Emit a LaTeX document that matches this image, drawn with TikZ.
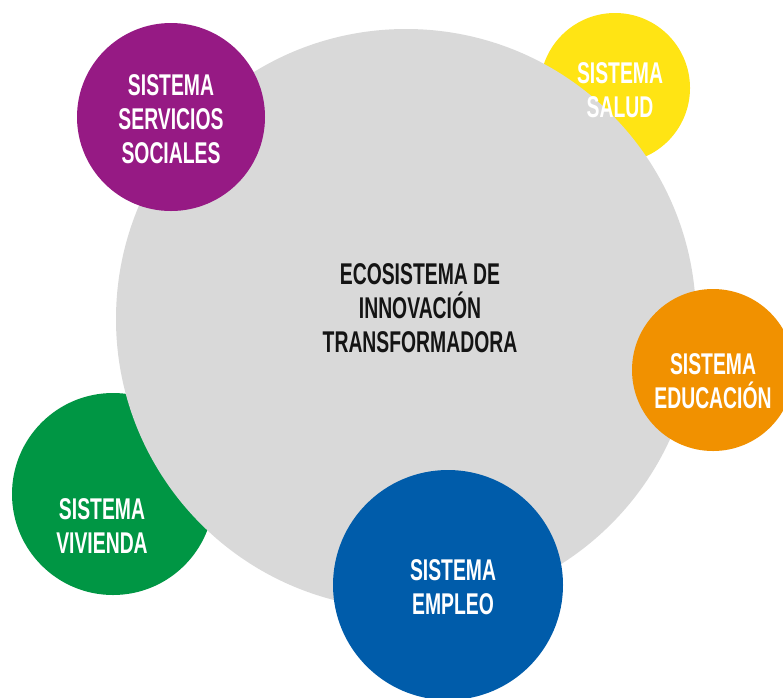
\documentclass[tikz,border=0pt]{standalone}
\usepackage{fontspec}
\newfontfamily\cond[FakeStretch=0.645]{Liberation Sans}
\definecolor{cgray}{RGB}{217,217,217}
\definecolor{cpurple}{RGB}{150,26,132}
\definecolor{cyellow}{RGB}{255,228,20}
\definecolor{corange}{RGB}{241,145,0}
\definecolor{cgreen}{RGB}{0,150,68}
\definecolor{cblue}{RGB}{0,92,170}
\tikzset{
  disc/.style={circle, inner sep=0pt, outer sep=0pt, draw=none, minimum size=#1},
  lbl/.style={align=center, inner sep=0pt, text=white, font=\cond\bfseries\fontsize{30}{34}\selectfont},
}
\begin{document}
\begin{tikzpicture}[x=1pt,y=-1pt]
\useasboundingbox (0,0) rectangle (783,697);
\fill[white] (0,0) rectangle (783,697);
% behind
\node[disc=150, fill=cyellow] (salud) at (615,88) {};
\node[disc=202, fill=cgreen] (vivienda) at (113,494) {};
% main
\node[disc=580, fill=cgray] (eco) at (406,319) {};
\node[lbl, text=black!92] (ecotxt) at (420,308) {ECOSISTEMA DE\\INNOVACIÓN\\TRANSFORMADORA};
\node[lbl] (saludtxt) at (620,90) {SISTEMA\\SALUD};
\node[lbl] (viviendatxt) at (102,526) {SISTEMA\\VIVIENDA};
% front
\node[disc=188, fill=cpurple] (social) at (171,117) {};
\node[lbl] (socialtxt) at (171,119) {SISTEMA\\SERVICIOS\\SOCIALES};
\node[disc=162, fill=corange] (educ) at (713,370) {};
\node[lbl] (eductxt) at (713,381) {SISTEMA\\EDUCACIÓN};
\node[disc=230, fill=cblue] (empleo) at (448,585) {};
\node[lbl] (empleotxt) at (453,587) {SISTEMA\\EMPLEO};
\end{tikzpicture}
\end{document}
